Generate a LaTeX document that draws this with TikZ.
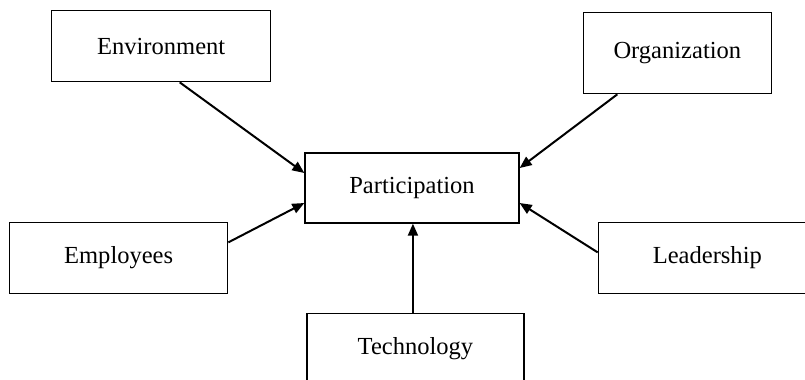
\documentclass[tikz,border=0pt]{standalone}
\usepackage{fontspec}
\setmainfont{Liberation Serif}
\usepackage{tikz}
\usetikzlibrary{positioning,arrows.meta}

\tikzset{
    factor/.style={draw,
        line width=1pt,
        fill=white,
        font=\fontsize{18.4}{22}\selectfont
    },
    arr/.style={-{Triangle[length=9pt,width=7.5pt]},
        line width=1.5pt
    }
}

\begin{document}
\begin{tikzpicture}

    % page frame
    \clip (-309pt,141pt) rectangle (294.75pt,-143.25pt);
    \fill[white] (-309pt,141pt) rectangle (294.75pt,-143.25pt);

    % participation
    \node [factor,
        minimum width=160.5pt,
        minimum height=52.5pt
    ] (part) at (0,0) {Participation};

    % environment
    \node [factor,
        minimum width=164.25pt,
        minimum height=53.25pt,
        above left=52.5pt and 24.75pt of part
    ] (env) {Environment};

    % organization
    \node [factor,
        minimum width=141pt,
        minimum height=60.75pt,
        above right=43.5pt and 47.25pt of part
    ] (org) {Organization};

    % employees
    \node [factor,
        minimum width=163.5pt,
        minimum height=53.25pt,
        below left=-1.5pt and 57pt of part
    ] (emp) {Employees};

    % leadership
    \node [factor,
        minimum width=163.5pt,
        minimum height=53.25pt,
        below right=-1.5pt and 58.5pt of part
    ] (lead) {Leadership};

    % technology
    \node [factor,
        minimum width=162.75pt,
        minimum height=52.5pt,
        below=66.75pt of part,
        xshift=2.6pt
    ] (tech) {Technology};

    % Arrows
    \draw[arr] ([xshift=13.9pt]env.south) -- ([yshift=11.25pt]part.west);

    \draw[arr] ([xshift=-45pt]org.south) -- ([yshift=15pt]part.east);

    \draw[arr] ([yshift=11.6pt]emp.east) -- ([yshift=-11.25pt]part.west);

    \draw[arr] ([yshift=4.1pt]lead.west) -- ([yshift=-11.25pt]part.east);

    \draw[arr] ([xshift=-1.9pt]tech.north) -- ([xshift=-1.9pt]tech.north |- part.south);

\end{tikzpicture}
\end{document}
